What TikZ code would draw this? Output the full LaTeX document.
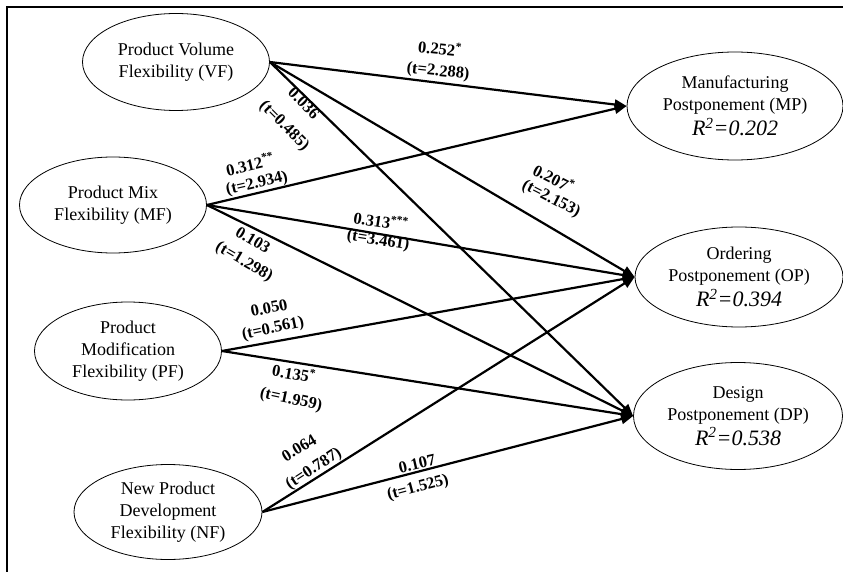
\documentclass[tikz,border=0pt]{standalone}
\usepackage{fontspec}
\setmainfont{Liberation Serif}
\usetikzlibrary{shapes.geometric,arrows.meta}
\begin{document}
\begin{tikzpicture}[x=1pt,y=-1pt,
  lat/.style={ellipse,draw,line width=0.8pt,inner sep=0pt,align=center,
    font=\fontsize{18}{22}\selectfont},
  pth/.style={line width=2.2pt,-{Triangle[length=12pt,width=10pt]}},
  coef/.style={font=\fontsize{16.5}{17}\selectfont\bfseries,inner sep=0pt}]
\useasboundingbox (0,0) rectangle (843,572);
\draw[line width=1.5pt] (7,572) -- (7,7) -- (843,7);
% exogenous
\node[lat,minimum width=187pt,minimum height=97pt] (VF) at (176,62) {Product Volume\\Flexibility (VF)};
\node[lat,minimum width=187pt,minimum height=96pt] (MF) at (113,205) {Product Mix\\Flexibility (MF)};
\node[lat,minimum width=187pt,minimum height=98pt] (PF) at (128,351) {Product\\Modification\\Flexibility (PF)};
\node[lat,minimum width=188pt,minimum height=95pt] (NF) at (168,512) {New Product\\Development\\Flexibility (NF)};
% endogenous
\node[lat,minimum width=216pt,minimum height=108pt] (MP) at (735,106) {Manufacturing\\Postponement (MP)\\[3pt]{\fontsize{22}{24}\selectfont\itshape R\textsuperscript{2}=0.202}};
\node[lat,minimum width=208pt,minimum height=100pt] (OP) at (739,277) {Ordering\\Postponement (OP)\\[3pt]{\fontsize{22}{24}\selectfont\itshape R\textsuperscript{2}=0.394}};
\node[lat,minimum width=209pt,minimum height=107pt] (DP) at (738,416) {Design\\Postponement (DP)\\[3pt]{\fontsize{22}{24}\selectfont\itshape R\textsuperscript{2}=0.538}};
% paths
\draw[pth] (VF.east) -- (MP.west);
\draw[pth] (VF.east) -- (OP.west);
\draw[pth] (VF.east) -- (DP.west);
\draw[pth] (MF.east) -- (MP.west);
\draw[pth] (MF.east) -- (OP.west);
\draw[pth] (MF.east) -- (DP.west);
\draw[pth] (PF.east) -- (OP.west);
\draw[pth] (PF.east) -- (DP.west);
\draw[pth] (NF.east) -- (OP.west);
\draw[pth] (NF.east) -- (DP.west);
% coefficients
\node[coef,rotate=-6] (c1a) at (440,48) {0.252\textsuperscript{*}};
\node[coef,rotate=-6] (c1b) at (438,72) {(t=2.288)};
\node[coef,rotate=-45] (c2a) at (304,103) {0.036};
\node[coef,rotate=-45] (c2b) at (284,126) {(t=0.485)};
\node[coef,rotate=13] (c3a) at (250,164) {0.312\textsuperscript{**}};
\node[coef,rotate=13] (c3b) at (257,184) {(t=2.934)};
\node[coef,rotate=-27] (c4a) at (554,178) {0.207\textsuperscript{*}};
\node[coef,rotate=-27] (c4b) at (551,199) {(t=2.153)};
\node[coef,rotate=-9] (c5a) at (381,221) {0.313\textsuperscript{***}};
\node[coef,rotate=-9] (c5b) at (378,241) {(t=3.461)};
\node[coef,rotate=-31] (c6a) at (253,240) {0.103};
\node[coef,rotate=-30] (c6b) at (244,262) {(t=1.298)};
\node[coef,rotate=11] (c7a) at (269,308) {0.050};
\node[coef,rotate=12] (c7b) at (273,329) {(t=0.561)};
\node[coef,rotate=-10] (c8a) at (294,373) {0.135\textsuperscript{*}};
\node[coef,rotate=-12] (c8b) at (291,400) {(t=1.959)};
\node[coef,rotate=31] (c9a) at (299,448) {0.064};
\node[coef,rotate=33] (c9b) at (314,469) {(t=0.787)};
\node[coef,rotate=13] (c10a) at (417,464) {0.107};
\node[coef,rotate=15] (c10b) at (418,488) {(t=1.525)};
\end{tikzpicture}
\end{document}
